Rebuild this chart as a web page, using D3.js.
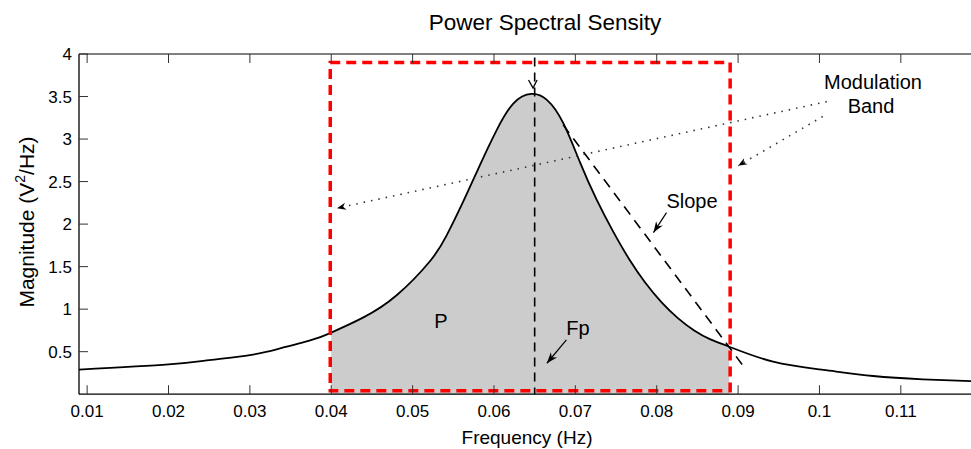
<!DOCTYPE html>
<html>
<head>
<meta charset="utf-8">
<script src="https://cdn.jsdelivr.net/npm/d3@7"></script>
<style>
  body { margin: 0; background: #fff; }
  svg text { font-family: "Liberation Sans", Arial, Helvetica, sans-serif; fill: #000; }
</style>
</head>
<body>
<div id="chart"></div>
<script>
// PSD curve
const freq = [0.009, 0.020, 0.025, 0.030, 0.0334, 0.0375, 0.0398, 0.0439, 0.0480, 0.0521,
              0.0542, 0.0562, 0.0583, 0.0603, 0.0624, 0.0646, 0.0665, 0.0685, 0.0706, 0.0726,
              0.0746, 0.0766, 0.0786, 0.0806, 0.0826, 0.0846, 0.0866, 0.0890, 0.0943, 0.1005,
              0.1066, 0.1127, 0.119];
const psd  = [0.29, 0.35, 0.40, 0.46, 0.53, 0.635, 0.716, 0.90, 1.16, 1.56,
              1.87, 2.26, 2.70, 3.10, 3.42, 3.53, 3.46, 3.19, 2.72, 2.29,
              1.92, 1.59, 1.31, 1.08, 0.895, 0.75, 0.645, 0.555, 0.382, 0.285,
              0.214, 0.175, 0.152];

const xTicks = [0.01, 0.02, 0.03, 0.04, 0.05, 0.06, 0.07, 0.08, 0.09, 0.1, 0.11];
const xTickLabels = ["0.01", "0.02", "0.03", "0.04", "0.05", "0.06", "0.07", "0.08", "0.09", "0.1", "0.11"];
const yTicks = [0.5, 1, 1.5, 2, 2.5, 3, 3.5, 4];
const yTickLabels = ["0.5", "1", "1.5", "2", "2.5", "3", "3.5", "4"];

// modulation band, peak frequency, slope segment
const band = [0.04, 0.0889];
const bandBox = [0.04, 3.9];          // [bottom, top] of the red box
const fp = 0.065;
const slopeLine = [[0.0685, 3.167], [0.0910, 0.285]];

const WIDTH = 971, HEIGHT = 449;
const margin = {left: 79, top: 54, right: 974, bottom: 394.2};

const svg = d3.select("#chart").append("svg")
  .attr("width", WIDTH).attr("height", HEIGHT);

const x = d3.scaleLinear().domain([0.009, 0.119]).range([margin.left, margin.left + 0.110 * 8137]);
const y = d3.scaleLinear().domain([0, 4]).range([margin.bottom, margin.top]);

const pts = freq.map((f, i) => [f, psd[i]]);
const smooth = d3.curveNatural;

// clip for the shaded band
svg.append("clipPath").attr("id", "bandClip")
  .append("rect")
  .attr("x", x(band[0])).attr("y", 0)
  .attr("width", x(band[1]) - x(band[0])).attr("height", HEIGHT);

svg.append("path")
  .datum(pts)
  .attr("clip-path", "url(#bandClip)")
  .attr("fill", "#cccccc")
  .attr("d", d3.area().x(d => x(d[0])).y0(y(0)).y1(d => y(d[1])).curve(smooth));

// curve
svg.append("path")
  .datum(pts)
  .attr("fill", "none")
  .attr("stroke", "#000")
  .attr("stroke-width", 1.8)
  .attr("d", d3.line().x(d => x(d[0])).y(d => y(d[1])).curve(smooth));

// peak frequency line
svg.append("line")
  .attr("x1", x(fp)).attr("x2", x(fp))
  .attr("y1", y(3.96)).attr("y2", y(0))
  .attr("stroke", "#000").attr("stroke-width", 1.6)
  .attr("stroke-dasharray", "9,6");

// open arrow head pointing to the peak
const tip = [x(0.0648), y(3.6)];
svg.append("path")
  .attr("d", `M${tip[0] - 4.5},${tip[1] - 8}L${tip[0]},${tip[1]}L${tip[0] + 4},${tip[1] - 8}`)
  .attr("fill", "none").attr("stroke", "#000").attr("stroke-width", 1.3);

// slope line
svg.append("line")
  .attr("x1", x(slopeLine[0][0])).attr("y1", y(slopeLine[0][1]))
  .attr("x2", x(slopeLine[1][0])).attr("y2", y(slopeLine[1][1]))
  .attr("stroke", "#000").attr("stroke-width", 1.6)
  .attr("stroke-dasharray", "10,7");

// red modulation band box
svg.append("rect")
  .attr("x", x(band[0]) - 1).attr("y", y(bandBox[1]))
  .attr("width", x(band[1]) - x(band[0]) + 2)
  .attr("height", y(bandBox[0]) - y(bandBox[1]))
  .attr("fill", "none").attr("stroke", "#ff0000")
  .attr("stroke-width", 3.5).attr("stroke-dasharray", "10,6");

// axes box
svg.append("line").attr("x1", margin.left).attr("x2", margin.right)
  .attr("y1", margin.top).attr("y2", margin.top).attr("stroke", "#000");
svg.append("line").attr("x1", margin.left).attr("x2", margin.right)
  .attr("y1", margin.bottom).attr("y2", margin.bottom).attr("stroke", "#000").attr("stroke-width", 1.3);
svg.append("line").attr("x1", margin.left).attr("x2", margin.left)
  .attr("y1", margin.top).attr("y2", margin.bottom).attr("stroke", "#000").attr("stroke-width", 1.3);

// ticks (inside, MATLAB style)
const TICK = 9;
svg.append("g").selectAll("line").data(xTicks).join("line")
  .attr("x1", d => x(d)).attr("x2", d => x(d))
  .attr("y1", margin.bottom).attr("y2", margin.bottom - TICK)
  .attr("stroke", "#333");
svg.append("g").selectAll("line").data(xTicks).join("line")
  .attr("x1", d => x(d)).attr("x2", d => x(d))
  .attr("y1", margin.top).attr("y2", margin.top + TICK)
  .attr("stroke", "#333");
svg.append("g").selectAll("line").data(yTicks).join("line")
  .attr("x1", margin.left).attr("x2", margin.left + TICK)
  .attr("y1", d => y(d)).attr("y2", d => y(d))
  .attr("stroke", "#333");

svg.append("g").selectAll("text").data(xTicks).join("text")
  .attr("x", d => x(d)).attr("y", 417)
  .attr("text-anchor", "middle").style("font-size", "17px")
  .text((d, i) => xTickLabels[i]);
svg.append("g").selectAll("text").data(yTicks).join("text")
  .attr("x", 72).attr("y", d => y(d) + 6)
  .attr("text-anchor", "end").style("font-size", "17px")
  .text((d, i) => yTickLabels[i]);

// titles
svg.append("text").attr("x", 545).attr("y", 30)
  .attr("text-anchor", "middle").style("font-size", "22.5px")
  .text("Power Spectral Sensity");
svg.append("text").attr("x", 527).attr("y", 444)
  .attr("text-anchor", "middle").style("font-size", "19px")
  .text("Frequency (Hz)");
const yl = svg.append("text")
  .attr("transform", "translate(34,222) rotate(-90)")
  .attr("text-anchor", "middle").style("font-size", "21px");
yl.append("tspan").text("Magnitude (V");
yl.append("tspan").attr("dy", -9).style("font-size", "14px").text("2");
yl.append("tspan").attr("dy", 9).text("/Hz)");

// annotations
function arrowHead(tx, ty, fx, fy, len, wid) {
  const a = Math.atan2(ty - fy, tx - fx);
  const bx = tx - len * Math.cos(a), by = ty - len * Math.sin(a);
  const nx = -Math.sin(a) * wid / 2, ny = Math.cos(a) * wid / 2;
  const mx = tx - len * 0.7 * Math.cos(a), my = ty - len * 0.7 * Math.sin(a);
  return `M${tx},${ty}L${bx + nx},${by + ny}L${mx},${my}L${bx - nx},${by - ny}Z`;
}
function arrow(from, to, dotted) {
  const fx = x(from[0]), fy = y(from[1]), tx = x(to[0]), ty = y(to[1]);
  svg.append("line").attr("x1", fx).attr("y1", fy).attr("x2", tx).attr("y2", ty)
    .attr("stroke", dotted ? "#333" : "#000")
    .attr("stroke-width", dotted ? 1.6 : 1.2)
    .attr("stroke-dasharray", dotted ? "1.5,6" : null);
  svg.append("path").attr("d", arrowHead(tx, ty, fx, fy, dotted ? 9 : 11, dotted ? 7 : 8))
    .attr("fill", "#000");
}

arrow([0.1009, 3.44], [0.0407, 2.187], true);
arrow([0.1004, 3.265], [0.0900, 2.685], true);
arrow([0.0812, 2.135], [0.0796, 1.90], false);
arrow([0.0689, 0.638], [0.0665, 0.364], false);

svg.append("text").attr("x", 873).attr("y", 89).attr("text-anchor", "middle")
  .style("font-size", "20px").text("Modulation");
svg.append("text").attr("x", 871).attr("y", 113).attr("text-anchor", "middle")
  .style("font-size", "20px").text("Band");
svg.append("text").attr("x", 692).attr("y", 208).attr("text-anchor", "middle")
  .style("font-size", "20px").text("Slope");
svg.append("text").attr("x", 441).attr("y", 328).attr("text-anchor", "middle")
  .style("font-size", "20px").text("P");
svg.append("text").attr("x", 578).attr("y", 335).attr("text-anchor", "middle")
  .style("font-size", "20px").text("Fp");
</script>
</body>
</html>
